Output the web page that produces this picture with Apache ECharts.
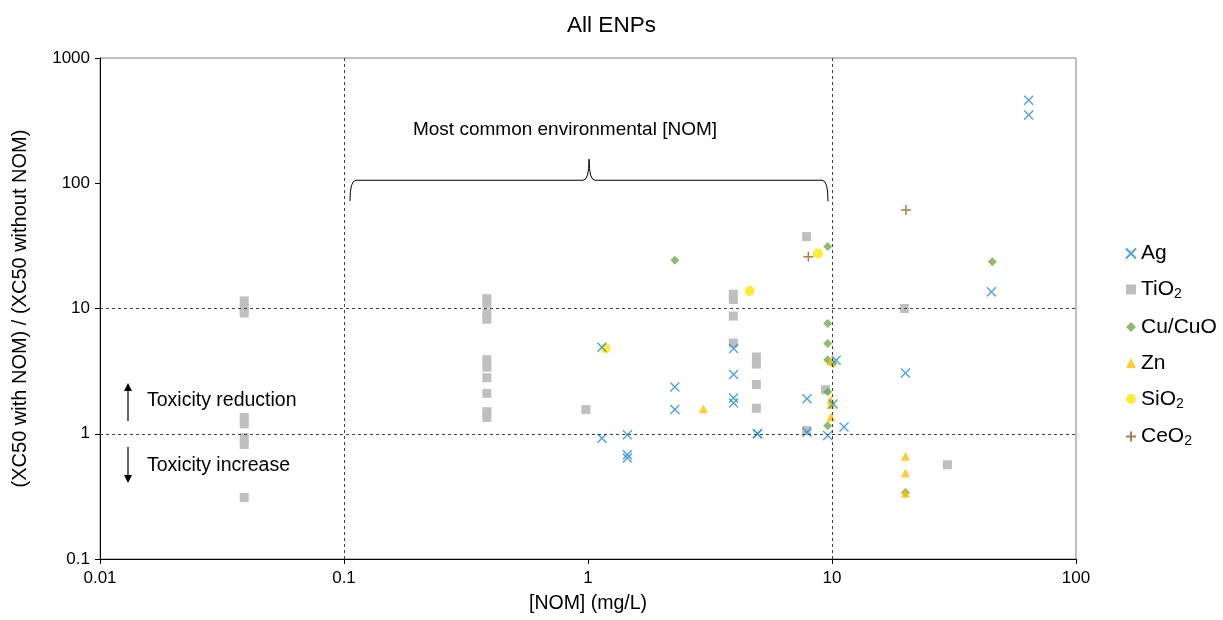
<!DOCTYPE html>
<html>
<head>
<meta charset="utf-8">
<script src="https://cdn.jsdelivr.net/npm/echarts@6/dist/echarts.min.js"></script>
<style>
html,body{margin:0;padding:0;background:#fff;}
#chart{width:1223px;height:620px;}
</style>
</head>
<body>
<div id="chart"></div>
<script>
// ---- data ----
const xTickLabels = ['0.01', '0.1', '1', '10', '100'];
const yTickLabels = ['0.1', '1', '10', '100', '1000'];
const seriesNames = ['Ag', 'TiO2', 'Cu/CuO', 'Zn', 'SiO2', 'CeO2'];

const agX = [1.14, 1.14, 1.45, 1.45, 1.45, 2.27, 2.27, 3.95, 3.95, 3.95, 3.95, 4.95, 4.95, 7.9, 7.9, 9.6, 10.4, 10.1, 11.2, 20, 45, 64, 64];
const agY = [4.9, 0.92, 0.98, 0.68, 0.64, 2.36, 1.56, 4.8, 2.97, 1.93, 1.76, 1.0, 1.0, 1.9, 1.03, 0.97, 3.86, 1.73, 1.13, 3.06, 13.6, 460, 350];

const tiX = [0.039, 0.039, 0.039, 0.039, 0.039, 0.039, 0.039, 0.039,
             0.385, 0.385, 0.385, 0.385, 0.385, 0.385, 0.385, 0.385, 0.385, 0.385,
             0.98, 3.94, 3.94, 3.94, 3.94, 4.9, 4.9, 4.9, 4.9, 7.87, 7.87, 9.4, 19.8, 29.7];
const tiY = [11.5, 10, 9.2, 1.35, 1.2, 0.93, 0.82, 0.31,
             12, 11, 9.2, 8.2, 3.9, 3.4, 2.8, 2.1, 1.5, 1.35,
             1.56, 13, 11.8, 8.7, 5.3, 4.1, 3.6, 2.47, 1.6, 37.5, 1.06, 2.25, 10, 0.565];

const cuX = [2.27, 9.6, 9.6, 9.6, 9.6, 10.1, 9.6, 9.6, 45.4, 20];
const cuY = [24.3, 31.2, 7.6, 5.25, 3.9, 3.63, 2.16, 1.16, 23.6, 0.34];

const znX = [2.97, 9.9, 9.9, 9.9, 9.9, 20, 20, 20];
const znY = [1.58, 3.8, 1.87, 1.71, 1.36, 0.66, 0.485, 0.335];

const siX = [1.18, 4.6, 8.76];
const siY = [4.8, 13.8, 27.5];

const ceX = [8.0, 20.1];
const ceY = [25.9, 61.2];

// reference lines & annotation (data units)
const refX = [0.1, 10];
const refY = [1, 10];
const braceSpan = [0.1058, 9.63];
const braceY = [71.8, 105.7, 155.6]; // end, bar, tip
const braceTipX = 1.01;
const braceLabel = 'Most common environmental [NOM]';
const braceLabelPos = [0.805, 265];

function pairs(xs, ys) { return xs.map((x, i) => [x, ys[i]]); }

const chart = echarts.init(document.getElementById('chart'));
const FONT = '"Liberation Sans", Arial, sans-serif';

const legendRich = {
  n: { fontSize: 21, fontFamily: FONT, color: '#000' },
  s: { fontSize: 14, fontFamily: FONT, color: '#000', padding: [10, 0, 0, 0] }
};
function legendFmt(name) {
  if (name === 'TiO2') return '{n|TiO}{s|2}';
  if (name === 'SiO2') return '{n|SiO}{s|2}';
  if (name === 'CeO2') return '{n|CeO}{s|2}';
  return '{n|' + name + '}';
}

const crossPath = 'path://M0,0L10,10M10,0L0,10';
const plusPath = 'path://M5,0L5,10M0,5L10,5';

const option = {
  animation: false,
  backgroundColor: '#fff',
  title: {
    text: 'All ENPs', left: 'center', top: 9,
    textStyle: { fontSize: 22.5, fontWeight: 'normal', color: '#000', fontFamily: FONT }
  },
  grid: { left: 100, right: 147, top: 58, bottom: 61, show: true, borderColor: '#808080', borderWidth: 1 },
  legend: {
    orient: 'vertical', left: 1120, top: 238, itemGap: 15,
    itemWidth: 10, itemHeight: 10,
    data: seriesNames.map(n => ({ name: n })),
    formatter: legendFmt,
    textStyle: { fontSize: 21, fontFamily: FONT, color: '#000', rich: legendRich }
  },
  xAxis: {
    type: 'log', logBase: 10, min: 0.01, max: 100,
    name: '[NOM] (mg/L)', nameLocation: 'middle', nameGap: 35,
    nameTextStyle: { fontSize: 19.5, fontFamily: FONT, color: '#000' },
    axisLine: { show: true, lineStyle: { color: '#000', width: 1 } },
    axisTick: { show: true, inside: false, length: 5, lineStyle: { color: '#000' } },
    axisLabel: {
      fontSize: 17, fontFamily: FONT, color: '#000', margin: 11,
      formatter: (v) => xTickLabels[Math.round(Math.log10(v)) + 2]
    },
    splitLine: { show: false }
  },
  yAxis: {
    type: 'log', logBase: 10, min: 0.1, max: 1000,
    name: '(XC50 with NOM) / (XC50 without NOM)', nameLocation: 'middle', nameGap: 70,
    nameTextStyle: { fontSize: 20, fontFamily: FONT, color: '#000' },
    axisLine: { show: true, lineStyle: { color: '#000', width: 1 } },
    axisTick: { show: true, inside: false, length: 5, lineStyle: { color: '#000' } },
    axisLabel: {
      fontSize: 17, fontFamily: FONT, color: '#000', margin: 10,
      formatter: (v) => yTickLabels[Math.round(Math.log10(v)) + 1]
    },
    splitLine: { show: false }
  },
  series: [
    {
      name: 'refLines', type: 'scatter', data: [], silent: true,
      markLine: {
        silent: true, symbol: 'none', label: { show: false },
        lineStyle: { type: [3, 3], color: '#404040', width: 1 },
        data: refX.map(v => ({ xAxis: v })).concat(refY.map(v => ({ yAxis: v })))
      }
    },
    {
      name: 'TiO2', type: 'scatter', symbol: 'rect', symbolSize: 9,
      itemStyle: { color: '#bfbfbf', opacity: 1 }, data: pairs(tiX, tiY)
    },
    {
      name: 'Cu/CuO', type: 'scatter', symbol: 'diamond', symbolSize: 9,
      itemStyle: { color: '#70ad47' }, data: pairs(cuX, cuY)
    },
    {
      name: 'Zn', type: 'scatter', symbol: 'triangle', symbolSize: 9,
      itemStyle: { color: '#ffc000' }, data: pairs(znX, znY)
    },
    {
      name: 'SiO2', type: 'scatter', symbol: 'circle', symbolSize: 10,
      itemStyle: { color: '#ffe600' }, data: pairs(siX, siY)
    },
    {
      name: 'Ag', type: 'scatter', symbol: crossPath, symbolSize: 9,
      itemStyle: { color: 'rgba(0,0,0,0)', borderColor: '#1f8be0', borderWidth: 1.4 },
      data: pairs(agX, agY)
    },
    {
      name: 'CeO2', type: 'scatter', symbol: plusPath, symbolSize: 10,
      itemStyle: { color: 'rgba(0,0,0,0)', borderColor: '#9c5a23', borderWidth: 1.5 },
      data: pairs(ceX, ceY)
    },
    {
      name: 'brace', type: 'custom', silent: true,
      data: [[braceSpan[0], braceY[0], braceSpan[1], braceY[1], braceTipX, braceY[2], braceLabelPos[0], braceLabelPos[1]]],
      encode: { x: [0, 2, 4, 6], y: [1, 3, 5, 7] },
      renderItem: function (params, api) {
        const pL = api.coord([api.value(0), api.value(1)]);
        const pR = api.coord([api.value(2), api.value(1)]);
        const yBar = api.coord([api.value(0), api.value(3)])[1];
        const pT = api.coord([api.value(4), api.value(5)]);
        const pLab = api.coord([api.value(6), api.value(7)]);
        const r = 6;
        const d = 'M' + pL[0] + ',' + pL[1] +
          ' Q' + pL[0] + ',' + yBar + ' ' + (pL[0] + r) + ',' + yBar +
          ' L' + (pT[0] - r) + ',' + yBar +
          ' Q' + pT[0] + ',' + yBar + ' ' + pT[0] + ',' + pT[1] +
          ' Q' + pT[0] + ',' + yBar + ' ' + (pT[0] + r) + ',' + yBar +
          ' L' + (pR[0] - r) + ',' + yBar +
          ' Q' + pR[0] + ',' + yBar + ' ' + pR[0] + ',' + pR[1];
        return {
          type: 'group',
          children: [
            { type: 'path', shape: { pathData: d }, style: { fill: null, stroke: '#000', lineWidth: 1 } },
            { type: 'text', x: pLab[0], y: pLab[1],
              style: { text: braceLabel, align: 'center', verticalAlign: 'middle', fontSize: 19, fontFamily: FONT, fill: '#000' } }
          ]
        };
      }
    }
  ],
  graphic: [
    { type: 'line', shape: { x1: 128, y1: 421, x2: 128, y2: 390 }, style: { stroke: '#000', lineWidth: 1.2 } },
    { type: 'polygon', shape: { points: [[124, 391], [132, 391], [128, 383]] }, style: { fill: '#000' } },
    { type: 'line', shape: { x1: 128, y1: 447, x2: 128, y2: 476 }, style: { stroke: '#000', lineWidth: 1.2 } },
    { type: 'polygon', shape: { points: [[124, 475], [132, 475], [128, 483]] }, style: { fill: '#000' } },
    { type: 'text', x: 147, y: 401, style: { text: 'Toxicity reduction', fontSize: 19.5, fontFamily: FONT, fill: '#000', verticalAlign: 'middle' } },
    { type: 'text', x: 147, y: 466, style: { text: 'Toxicity increase', fontSize: 19.5, fontFamily: FONT, fill: '#000', verticalAlign: 'middle' } }
  ]
};
chart.setOption(option);
</script>
</body>
</html>
